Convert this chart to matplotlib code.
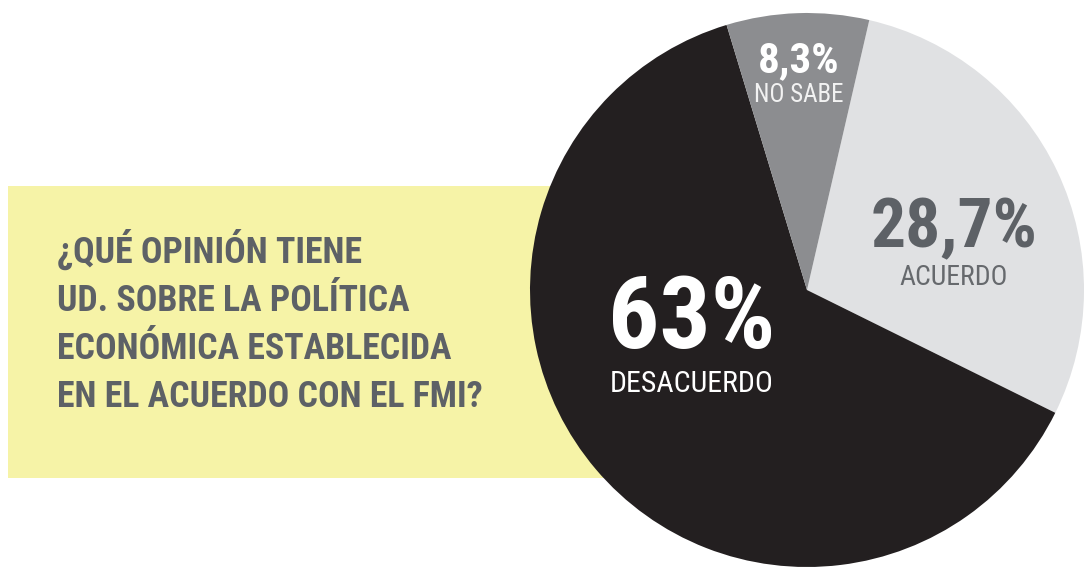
import matplotlib
matplotlib.use("Agg")
import matplotlib.pyplot as plt
from matplotlib.patches import Rectangle

# datos de la encuesta
categorias = ["ACUERDO", "DESACUERDO", "NO SABE"]
valores = [28.7, 63.0, 8.3]
colores = ["#e0e1e3", "#231f20", "#8c8d90"]

pregunta = ["¿QUÉ OPINIÓN TIENE",
            "UD. SOBRE LA POLÍTICA",
            "ECONÓMICA ESTABLECIDA",
            "EN EL ACUERDO CON EL FMI?"]

W, H = 1085, 568
FONT = "Roboto Condensed"

fig = plt.figure(figsize=(W / 100, H / 100), dpi=100)
ax = fig.add_axes([0, 0, 1, 1])

# caja amarilla detras de la torta
ax.add_patch(Rectangle((8, H - 478), 600, 292, facecolor="#f6f3a7", edgecolor="none", zorder=0))

cx, cy, rad = 807, H - 290, 277
ax.pie(valores, colors=colores, startangle=77, counterclock=False,
       center=(cx, cy), radius=rad, frame=True,
       wedgeprops=dict(linewidth=0, zorder=2))

ax.set_xlim(0, W)
ax.set_ylim(0, H)
ax.set_aspect("equal")
ax.axis("off")

# texto de la pregunta
for i, linea in enumerate(pregunta):
    ax.text(57, H - (263 + 48 * i), linea, family=FONT, weight="bold", fontsize=25.8,
            color="#5d6166", ha="left", va="baseline", zorder=3)

def etiqueta(v):
    return f"{v:g}".replace(".", ",") + "%"

# etiquetas de porcentaje
# (x centro, linea base numero, linea base texto, tam numero, tam texto, color num, color txt)
pos = {
    "ACUERDO": (954, 247, 285, 50, 20, "#5d6166", "#66696d"),
    "DESACUERDO": (692, 348, 392, 73, 21.5, "white", "white"),
    "NO SABE": (799, 72, 102, 31, 18, "white", "#f2f2f2"),
}
for cat, v in zip(categorias, valores):
    x, yb1, yb2, fs1, fs2, c1, c2 = pos[cat]
    ax.text(x, H - yb1, etiqueta(v), family=FONT, weight="bold", fontsize=fs1,
            color=c1, ha="center", va="baseline", zorder=4)
    ax.text(x, H - yb2, cat, family=FONT, weight="normal", fontsize=fs2,
            color=c2, ha="center", va="baseline", zorder=4)

fig.savefig("out.png", dpi=100)
